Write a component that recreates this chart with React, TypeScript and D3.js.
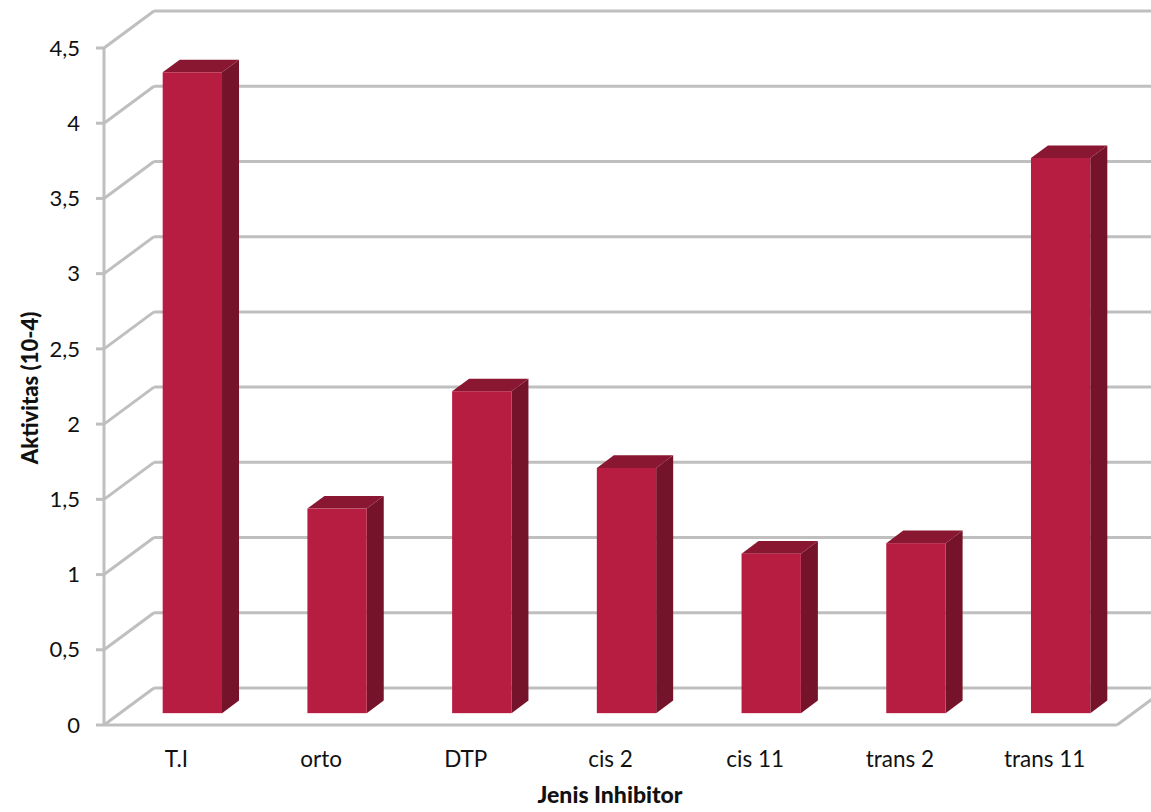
import React from "react";
import * as d3 from "d3";

// Inhibitor activity values (x10^-4)
const categories: string[] = ["T.I", "orto", "DTP", "cis 2", "cis 11", "trans 2", "trans 11"];
const activity: number[] = [4.26, 1.36, 2.14, 1.63, 1.06, 1.13, 3.69];
const yTicks: number[] = [0, 0.5, 1, 1.5, 2, 2.5, 3, 3.5, 4, 4.5];

const W = 1151;
const H = 812;
const FONT = "Lato, 'Open Sans', sans-serif";

// front plane of the 3D box
const x0 = 104;
const x1 = 1117;
const yZero = 725;
const yTop = 48;
// depth vector from front plane to back wall
const DX = 50;
const DY = -37;
// bar occupies this depth range (fraction of the box depth)
const F1 = 0.32;
const F2 = 0.66;

const GRID = "#BFBFBF";
const FRONT = "#B71D41";
const TOP = "#8A1732";
const SIDE = "#74132A";

const fmt = (v: number) => String(v).replace(".", ",");

export default function App() {
  const y = d3.scaleLinear().domain([0, 4.5]).range([yZero, yTop]);
  const x = d3.scaleBand<string>().domain(categories).range([x0, x1]).paddingInner(0).paddingOuter(0);
  const bw = x.bandwidth() * 0.41;

  const fdx = DX * F1, fdy = DY * F1;
  const ddx = DX * (F2 - F1), ddy = DY * (F2 - F1);

  return (
    <svg width={W} height={H} style={{ position: "absolute", left: 0, top: 0, background: "#fff" }}>
      {/* back wall gridlines and left wall diagonals */}
      {yTicks.map((t) => (
        <g key={t}>
          <line x1={x0 + DX} x2={W + 20} y1={y(t) + DY} y2={y(t) + DY} stroke={GRID} strokeWidth={3} />
          <line x1={x0} y1={y(t)} x2={x0 + DX} y2={y(t) + DY} stroke={GRID} strokeWidth={3} />
        </g>
      ))}
      {/* floor */}
      <line x1={x0} x2={x1} y1={yZero} y2={yZero} stroke={GRID} strokeWidth={3} />
      <line x1={x1} y1={yZero} x2={x1 + DX} y2={yZero + DY} stroke={GRID} strokeWidth={3} />
      {/* value axis */}
      <line x1={x0} x2={x0} y1={y(4.5)} y2={yZero} stroke={GRID} strokeWidth={3} />
      {yTicks.map((t) => (
        <g key={"tk" + t}>
          <line x1={x0 - 8} x2={x0} y1={y(t)} y2={y(t)} stroke={GRID} strokeWidth={3} />
          <text x={80} y={y(t)} dy="0.35em" textAnchor="end" fontFamily={FONT} fontSize={22} fill="#111">
            {fmt(t)}
          </text>
        </g>
      ))}
      {/* bars */}
      {categories.map((c, i) => {
        const cx = (x(c) as number) + x.bandwidth() / 2;
        const l = cx - bw / 2 + fdx;
        const r = cx + bw / 2 + fdx;
        const b = yZero + fdy;
        const h = yZero - y(activity[i]);
        const t = b - h;
        return (
          <g key={c}>
            <polygon
              points={`${r},${t} ${r + ddx},${t + ddy} ${r + ddx},${b + ddy} ${r},${b}`}
              fill={SIDE}
            />
            <polygon
              points={`${l},${t} ${l + ddx},${t + ddy} ${r + ddx},${t + ddy} ${r},${t}`}
              fill={TOP}
            />
            <rect x={l} y={t} width={r - l} height={h} fill={FRONT} />
          </g>
        );
      })}
      {/* category labels */}
      {categories.map((c) => (
        <text
          key={"lb" + c}
          x={(x(c) as number) + x.bandwidth() / 2}
          y={767}
          textAnchor="middle"
          fontFamily={FONT}
          fontSize={22.5}
          fill="#111"
        >
          {c}
        </text>
      ))}
      {/* axis titles */}
      <text x={610} y={803} textAnchor="middle" fontFamily={FONT} fontWeight={900} fontSize={23} fill="#111">
        Jenis Inhibitor
      </text>
      <text
        transform={`translate(38,388) rotate(-90)`}
        textAnchor="middle"
        fontFamily={FONT}
        fontWeight={900}
        fontSize={22}
        fill="#111"
      >
        Aktivitas (10-4)
      </text>
    </svg>
  );
}
